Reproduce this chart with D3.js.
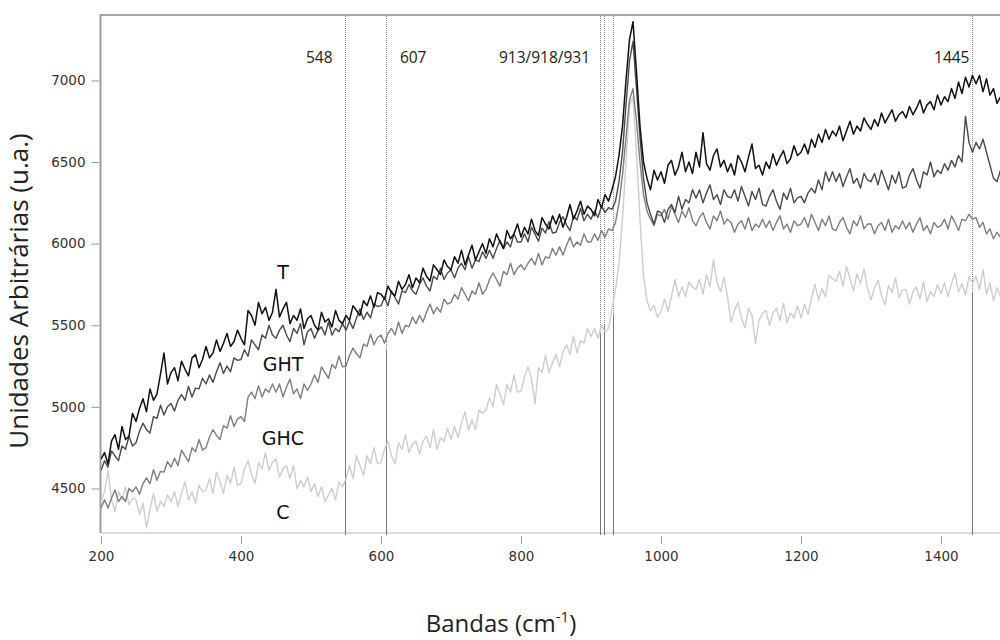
<!DOCTYPE html>
<html lang="pt">
<head>
<meta charset="UTF-8">
<title>Espectros Raman</title>
<style>
    body, html { margin: 0; padding: 0; background: #fff; overflow: hidden; }
    svg { display: block; }
    .tick-label { font: 13.5px "DejaVu Sans", sans-serif; fill: #333; }
    .band-label { font: 15.5px "Open Sans", sans-serif; fill: #222; }
    .series-label { font: 19px "DejaVu Sans", sans-serif; fill: #111; }
    .axis-title { font-family: "Open Sans", sans-serif; fill: #222; }
</style>
</head>
<body>
<svg width="1000" height="640"></svg>
<script src="https://d3js.org/d3.v7.min.js"></script>
<script>
    // wavenumber grid (cm-1), one reading every 5 cm-1
    const waveStart = 200, waveStep = 5;

    const serieT = [
        4680, 4720, 4650, 4790, 4830, 4740, 4880, 4800, 4820, 4960,
        4910, 4990, 5050, 4970, 5110, 5040, 5080, 5200, 5330, 5140,
        5210, 5240, 5160, 5280, 5230, 5190, 5300, 5320, 5240, 5290,
        5370, 5300, 5330, 5410, 5340, 5390, 5450, 5370, 5400, 5470,
        5420, 5380, 5590, 5560, 5500, 5640, 5570, 5610, 5530, 5580,
        5720, 5550, 5600, 5640, 5510, 5560, 5530, 5600, 5480, 5540,
        5560, 5500, 5470, 5580, 5520, 5540, 5490, 5590, 5530, 5510,
        5560, 5530, 5620, 5590, 5560, 5650, 5620, 5680, 5610, 5700,
        5690, 5660, 5740, 5700, 5680, 5770, 5720, 5750, 5810, 5730,
        5790, 5760, 5850, 5800, 5770, 5870, 5840, 5810, 5900, 5860,
        5840, 5920, 5880, 5960, 5870, 5930, 5990, 5900, 5950, 6000,
        5940, 6030, 5980, 6060, 6010, 5970, 6080, 6030, 6060, 6120,
        6040, 6100, 6060, 6150, 6080, 6050, 6160, 6120, 6090, 6170,
        6120, 6180, 6100, 6160, 6240, 6150, 6200, 6260, 6180, 6230,
        6210, 6170, 6270, 6220, 6300, 6260, 6330, 6410, 6540, 6720,
        7000, 7250, 7360, 7050, 6720, 6500, 6400, 6330, 6450, 6390,
        6440, 6370, 6480, 6510, 6420, 6470, 6560, 6440, 6500, 6430,
        6560, 6470, 6680, 6490, 6450, 6540, 6580, 6470, 6510, 6440,
        6490, 6420, 6540, 6500, 6440, 6530, 6610, 6460, 6480, 6420,
        6500, 6460, 6550, 6480, 6530, 6570, 6490, 6520, 6600, 6540,
        6560, 6610, 6550, 6640, 6590, 6670, 6620, 6700, 6640, 6690,
        6660, 6720, 6630, 6690, 6750, 6670, 6720, 6690, 6770, 6730,
        6700, 6760, 6720, 6800, 6740, 6780, 6820, 6750, 6790, 6810,
        6770, 6840, 6790, 6830, 6880, 6800, 6850, 6870, 6820, 6910,
        6850, 6900, 6870, 6950, 6890, 6990, 6920, 7020, 6960, 7030,
        6980, 7030, 6930, 7010, 6910, 6950, 6860, 6900
    ];

    const serieGHT = [
        4610, 4670, 4630, 4730, 4700, 4670, 4760, 4740, 4820, 4760,
        4780, 4850, 4900, 4860, 4840, 4940, 4930, 5010, 4950, 5000,
        5020, 4975, 5040, 5075, 5040, 5125, 5060, 5115, 5110, 5175,
        5140, 5195, 5150, 5215, 5270, 5205, 5250, 5215, 5300, 5285,
        5290, 5350, 5310, 5410, 5380, 5350, 5440, 5420, 5500, 5440,
        5420, 5470, 5500, 5440, 5400, 5480, 5450, 5510, 5380, 5460,
        5480, 5420, 5470, 5490, 5440, 5520, 5440, 5480, 5460, 5510,
        5470, 5525, 5480, 5545, 5600, 5535, 5580, 5545, 5630, 5615,
        5620, 5670, 5620, 5710, 5670, 5630, 5710, 5700, 5750, 5710,
        5690, 5750, 5790, 5740, 5710, 5800, 5780, 5850, 5780, 5820,
        5840, 5790, 5850, 5880, 5840, 5920, 5850, 5900, 5890, 5950,
        5910, 5960, 5910, 5970, 6020, 5970, 6010, 5980, 6060, 6010,
        6010, 6060, 6010, 6100, 6060, 6015, 6095, 6065, 6135, 6065,
        6070, 6130, 6165, 6115, 6080, 6170, 6145, 6215, 6140, 6180,
        6150, 6200, 6160, 6230, 6190, 6220, 6210, 6260, 6380, 6560,
        6850, 7120, 7240, 6950, 6650, 6400, 6250, 6180, 6120, 6200,
        6190, 6130, 6210, 6240, 6190, 6290, 6210, 6270, 6250, 6330,
        6280, 6330, 6250, 6310, 6360, 6270, 6300, 6240, 6330, 6290,
        6280, 6330, 6260, 6350, 6290, 6230, 6320, 6270, 6340, 6240,
        6230, 6290, 6330, 6260, 6210, 6310, 6270, 6340, 6250, 6280,
        6290, 6250, 6310, 6340, 6310, 6390, 6330, 6440, 6380, 6440,
        6380, 6430, 6350, 6410, 6460, 6370, 6400, 6340, 6430, 6390,
        6380, 6430, 6360, 6450, 6390, 6330, 6420, 6370, 6440, 6340,
        6350, 6420, 6460, 6390, 6340, 6440, 6420, 6500, 6410, 6450,
        6430, 6490, 6450, 6510, 6470, 6540, 6500, 6780, 6620, 6560,
        6620, 6580, 6640, 6560, 6480, 6400, 6380, 6450
    ];

    const serieGHC = [
        4380, 4430, 4380, 4440, 4490, 4420, 4450, 4420, 4500, 4480,
        4510, 4465, 4530, 4565, 4530, 4615, 4550, 4605, 4600, 4665,
        4630, 4685, 4640, 4735, 4700, 4665, 4750, 4725, 4800, 4735,
        4750, 4815, 4860, 4825, 4800, 4885, 4870, 4945, 4880, 4925,
        4940, 4910, 5060, 5090, 5050, 5130, 5060, 5110, 5090, 5140,
        5090, 5140, 5060, 5120, 5170, 5080, 5110, 5050, 5140, 5100,
        5140, 5195, 5150, 5245, 5210, 5175, 5260, 5235, 5310, 5245,
        5250, 5315, 5360, 5325, 5300, 5385, 5370, 5445, 5380, 5425,
        5440, 5390, 5450, 5480, 5440, 5520, 5450, 5500, 5490, 5550,
        5510, 5560, 5520, 5580, 5630, 5570, 5610, 5580, 5660, 5630,
        5640, 5690, 5660, 5730, 5690, 5650, 5710, 5690, 5760, 5690,
        5720, 5780, 5820, 5780, 5740, 5830, 5810, 5880, 5810, 5850,
        5870, 5840, 5880, 5910, 5870, 5940, 5870, 5920, 5910, 5970,
        5930, 5980, 5930, 5990, 6040, 5980, 6010, 5990, 6060, 6010,
        6010, 6060, 6020, 6080, 6040, 6090, 6080, 6130, 6250, 6420,
        6650, 6880, 6950, 6750, 6500, 6300, 6200, 6150, 6110, 6180,
        6170, 6210, 6150, 6230, 6180, 6130, 6200, 6160, 6220, 6140,
        6110, 6160, 6190, 6130, 6090, 6170, 6140, 6200, 6120, 6150,
        6130, 6070, 6120, 6140, 6090, 6160, 6080, 6120, 6100, 6150,
        6100, 6140, 6080, 6130, 6170, 6090, 6120, 6070, 6140, 6110,
        6120, 6160, 6100, 6180, 6130, 6080, 6150, 6110, 6170, 6090,
        6080, 6130, 6160, 6100, 6060, 6140, 6110, 6170, 6090, 6120,
        6120, 6060, 6110, 6130, 6080, 6150, 6070, 6110, 6090, 6140,
        6090, 6130, 6070, 6120, 6160, 6080, 6110, 6060, 6130, 6100,
        6110, 6150, 6090, 6170, 6130, 6080, 6150, 6140, 6180, 6150,
        6160, 6100, 6130, 6060, 6090, 6030, 6070, 6040
    ];

    const serieC = [
        4420, 4480, 4610, 4430, 4360, 4480, 4430, 4510, 4400, 4440,
        4430, 4340, 4410, 4260, 4370, 4470, 4360, 4420, 4390, 4460,
        4420, 4480, 4390, 4470, 4540, 4430, 4480, 4410, 4520, 4480,
        4490, 4560, 4470, 4600, 4540, 4470, 4580, 4530, 4630, 4520,
        4530, 4620, 4670, 4590, 4530, 4660, 4620, 4720, 4610, 4660,
        4680, 4570, 4620, 4640, 4560, 4640, 4500, 4550, 4510, 4570,
        4480, 4530, 4450, 4510, 4420, 4460, 4500, 4430, 4540, 4510,
        4560, 4640, 4560, 4700, 4640, 4580, 4700, 4650, 4750, 4650,
        4660, 4740, 4790, 4700, 4650, 4780, 4740, 4830, 4720, 4770,
        4790, 4710, 4790, 4820, 4750, 4860, 4740, 4810, 4790, 4870,
        4800, 4880, 4810, 4900, 4970, 4860, 4920, 4860, 4980, 4960,
        4980, 5055, 5000, 5135, 5075, 5015, 5135, 5090, 5195, 5090,
        5095, 5185, 5245, 5170, 5020, 5240, 5210, 5315, 5210, 5270,
        5320, 5245, 5335, 5380, 5320, 5435, 5330, 5405, 5390, 5480,
        5430, 5480, 5420, 5500, 5460, 5480, 5600, 5720, 5880, 6150,
        6500, 6850, 6900, 6550, 6150, 5800, 5650, 5590, 5620, 5550,
        5585, 5660, 5585, 5675, 5780, 5675, 5735, 5675, 5765, 5735,
        5720, 5780, 5690, 5810, 5735, 5900, 5765, 5705, 5795, 5675,
        5520, 5590, 5640, 5545, 5485, 5605, 5560, 5390, 5530, 5575,
        5590, 5500, 5575, 5605, 5530, 5635, 5515, 5575, 5545, 5620,
        5545, 5630, 5565, 5665, 5750, 5655, 5725, 5675, 5805, 5785,
        5770, 5830, 5740, 5860, 5785, 5710, 5815, 5755, 5845, 5725,
        5655, 5730, 5775, 5685, 5625, 5745, 5700, 5790, 5670, 5715,
        5720, 5630, 5705, 5735, 5660, 5765, 5645, 5705, 5675, 5750,
        5695, 5760, 5675, 5755, 5820, 5705, 5755, 5685, 5800, 5760,
        5800, 5720, 5840, 5690, 5760, 5650, 5730, 5680
    ];

    const seriesNames = ["C", "GHC", "GHT", "T"];
    const seriesValues = [serieC, serieGHC, serieGHT, serieT];
    const seriesColors = ["#cdcdcd", "#7e7e7e", "#4a4a4a", "#111111"];

    // marked bands; dotted above "split", solid below it
    const bandPositions = [548, 607, 913, 918, 931, 1445];
    const bandSplits = [5545, 5350, 5450, 5500, 5560, 5700];
    const bandTexts = ["548", "607", "913/918/931", "1445"];

    const xTicks = [200, 400, 600, 800, 1000, 1200, 1400];
    const yTicks = [4500, 5000, 5500, 6000, 6500, 7000];

    const svg = d3.select("svg");
    const plotL = 101, plotR = 1000, plotT = 14, plotB = 533;

    const x = d3.scaleLinear().domain([200, 1484.3]).range([plotL, plotR]);
    const y = d3.scaleLinear().domain([4227, 7407]).range([plotB, plotT]);

    svg.append("clipPath").attr("id", "plot")
        .append("rect")
        .attr("x", plotL).attr("y", plotT)
        .attr("width", plotR - plotL).attr("height", plotB - plotT);

    // frame
    svg.append("line")
        .attr("x1", plotL).attr("x2", plotR).attr("y1", plotT + 1).attr("y2", plotT + 1)
        .attr("stroke", "#a8a8a8").attr("stroke-width", 2);
    svg.append("line")
        .attr("x1", plotL).attr("x2", plotR).attr("y1", plotB).attr("y2", plotB)
        .attr("stroke", "#cfcfcf").attr("stroke-width", 1.5);
    svg.append("line")
        .attr("x1", plotL - 0.5).attr("x2", plotL - 0.5).attr("y1", plotT).attr("y2", plotB)
        .attr("stroke", "#a0a0a0").attr("stroke-width", 2);

    // y axis
    const gy = svg.append("g")
        .attr("transform", `translate(${plotL - 1.5},0)`)
        .call(d3.axisLeft(y).tickValues(yTicks).tickFormat(d3.format("d")).tickSize(8).tickPadding(6));
    gy.select(".domain").remove();
    gy.selectAll(".tick line").attr("stroke", "#999");
    gy.attr("font-size", null).attr("font-family", null);
    gy.selectAll(".tick text").attr("class", "tick-label").attr("fill", null);

    // x axis (ticks hang a little below the baseline)
    const gx = svg.append("g")
        .attr("transform", `translate(0,${plotB + 3})`)
        .call(d3.axisBottom(x).tickValues(xTicks).tickFormat(d3.format("d")).tickSize(8).tickPadding(7));
    gx.select(".domain").remove();
    gx.selectAll(".tick line").attr("stroke", "#999");
    gx.attr("font-size", null).attr("font-family", null);
    gx.selectAll(".tick text").attr("class", "tick-label").attr("fill", null);

    // band markers
    const bands = svg.append("g");
    bandPositions.forEach((b, i) => {
        const bx = Math.round(x(b)) + 0.5;
        bands.append("line")
            .attr("x1", bx).attr("x2", bx).attr("y1", plotT + 2).attr("y2", y(bandSplits[i]))
            .attr("stroke", "#8a8a8a").attr("stroke-width", 1)
            .attr("stroke-dasharray", "1,1");
        bands.append("line")
            .attr("x1", bx).attr("x2", bx).attr("y1", y(bandSplits[i])).attr("y2", plotB + 2)
            .attr("stroke", "#777").attr("stroke-width", 1);
    });

    // spectra
    const line = d3.line()
        .x((d, i) => x(waveStart + i * waveStep))
        .y(d => y(d));

    svg.append("g").attr("clip-path", "url(#plot)")
        .selectAll("path")
        .data(seriesValues)
        .join("path")
        .attr("fill", "none")
        .attr("stroke", (d, i) => seriesColors[i])
        .attr("stroke-width", (d, i) => i === 3 ? 1.5 : 1.4)
        .attr("stroke-linejoin", "round")
        .attr("d", line);

    // band labels
    const bandLabelPlace = [
        { at: 548, dx: -12, anchor: "end" },
        { at: 607, dx: 14, anchor: "start" },
        { at: 913, dx: -10, anchor: "end" },
        { at: 1445, dx: -3, anchor: "end" }
    ];
    svg.append("g").selectAll("text")
        .data(bandTexts)
        .join("text")
        .attr("class", "band-label")
        .attr("x", (d, i) => x(bandLabelPlace[i].at) + bandLabelPlace[i].dx)
        .attr("y", 63)
        .attr("text-anchor", (d, i) => bandLabelPlace[i].anchor)
        .text(d => d);

    // series names beside the curves
    const labelYs = [519, 445, 371, 279];
    svg.append("g").selectAll("text")
        .data(seriesNames)
        .join("text")
        .attr("class", "series-label")
        .attr("x", 283)
        .attr("y", (d, i) => labelYs[i])
        .attr("text-anchor", "middle")
        .text(d => d);

    // axis titles
    svg.append("text")
        .attr("class", "axis-title")
        .attr("font-size", 26)
        .attr("transform", "translate(28,291) rotate(-90)")
        .attr("text-anchor", "middle")
        .text("Unidades Arbitrárias (u.a.)");

    const xt = svg.append("text")
        .attr("class", "axis-title")
        .attr("font-size", 24)
        .attr("x", 501).attr("y", 632)
        .attr("text-anchor", "middle");
    xt.append("tspan").text("Bandas (cm");
    xt.append("tspan").attr("dy", -10).attr("font-size", 15).text("-1");
    xt.append("tspan").attr("dy", 10).text(")");
</script>
</body>
</html>
